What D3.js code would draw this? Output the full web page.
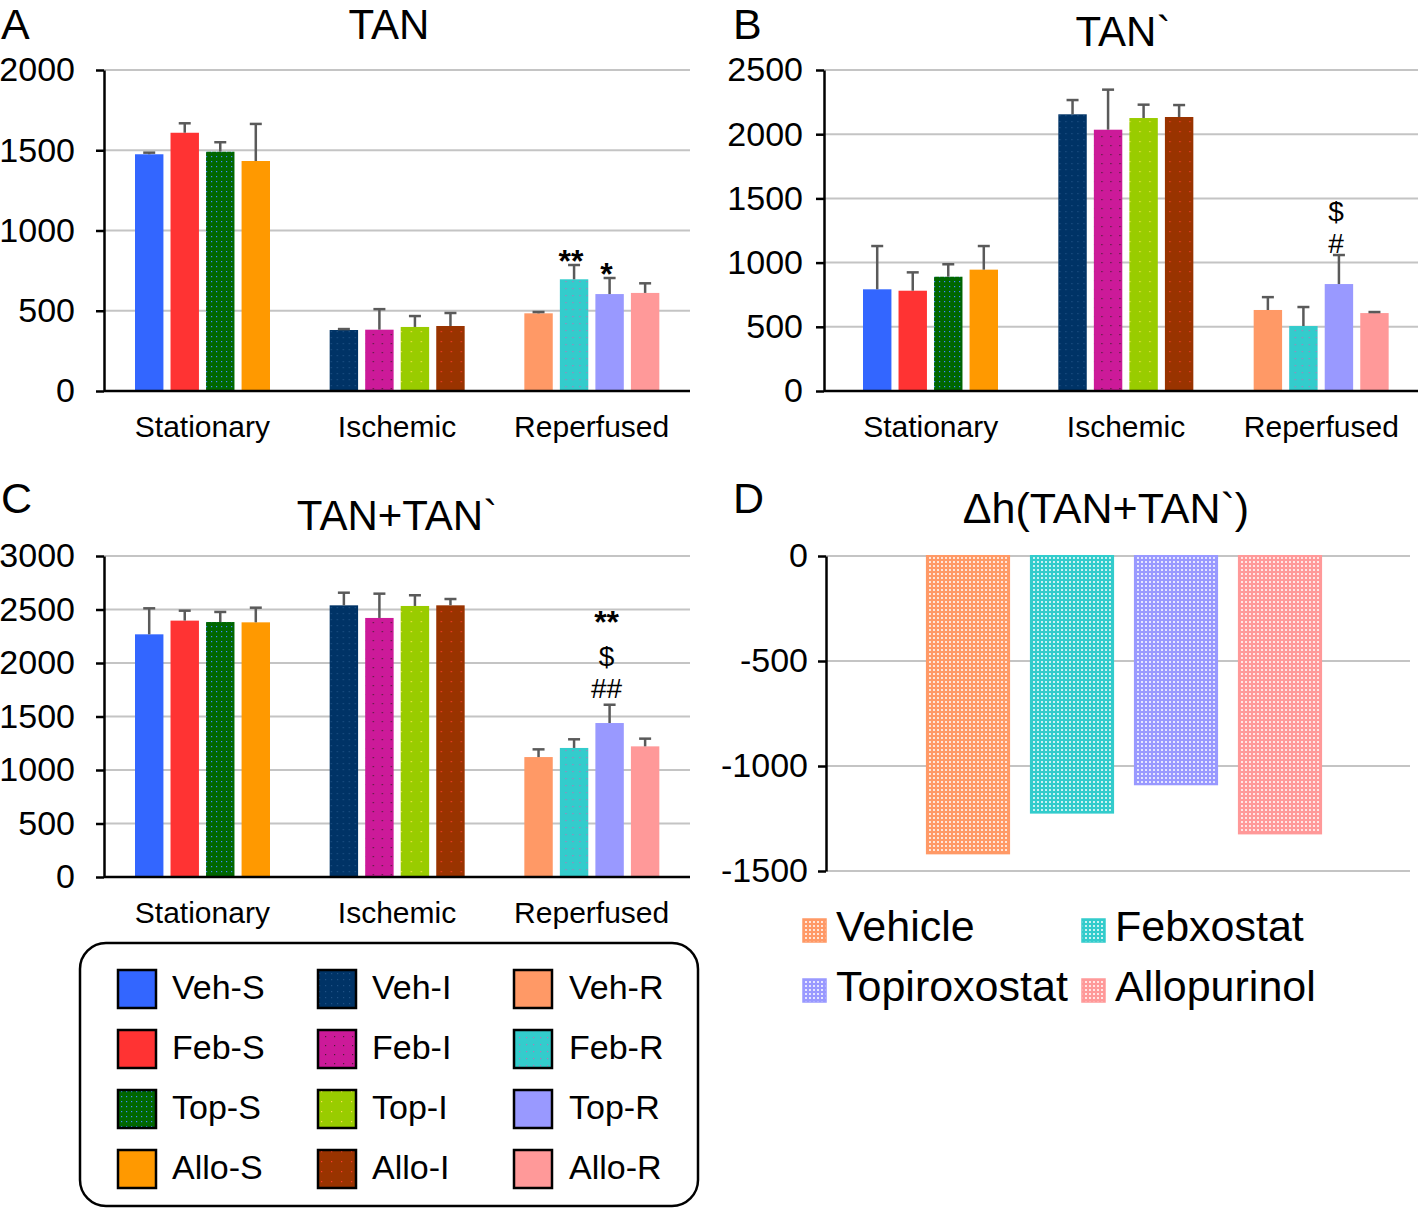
<!DOCTYPE html>
<html><head><meta charset="utf-8">
<script src="https://cdn.jsdelivr.net/npm/d3@7"></script>
<style>
body{margin:0;background:#fff}
svg{display:block}
text{font-family:"Liberation Sans",Arial,Helvetica,sans-serif;fill:#000}
</style>
</head><body>
<svg id="chart" width="1418" height="1209"></svg>
<script>
// ---------------- DATA ----------------
const categories = ["Stationary", "Ischemic", "Reperfused"];
const drugs = ["Veh", "Feb", "Top", "Allo"];
const groupSuffix = ["S", "I", "R"];

// Panel A: TAN  (rows = categories, cols = drugs)
const tanMean = [[1475, 1609, 1491, 1433], [380, 382, 399, 405], [484, 696, 604, 611]];
const tanErr  = [[10, 59, 59, 231], [6, 128, 68, 81], [8, 89, 100, 60]];
// Panel B: TAN`
const tanPMean = [[792, 781, 890, 945], [2155, 2035, 2126, 2134], [631, 506, 833, 607]];
const tanPErr  = [[337, 143, 97, 184], [111, 312, 104, 93], [100, 148, 226, 8]];
// Panel C: TAN+TAN`
const totalMean = [[2268, 2396, 2383, 2380], [2539, 2421, 2533, 2539], [1121, 1206, 1439, 1221]];
const totalErr  = [[243, 93, 94, 137], [118, 227, 100, 59], [72, 81, 171, 72]];
// Panel D: delta h(TAN+TAN`)
const deltaGroups = ["Vehicle", "Febxostat", "Topiroxostat", "Allopurinol"];
const deltaValues = [-1416, -1222, -1087, -1321];

const ticksA = [0, 500, 1000, 1500, 2000];
const ticksB = [0, 500, 1000, 1500, 2000, 2500];
const ticksC = [0, 500, 1000, 1500, 2000, 2500, 3000];
const ticksD = [0, -500, -1000, -1500];

const annotA = [{cat: 2, drug: 1, lines: ["**"]}, {cat: 2, drug: 2, lines: ["*"]}];
const annotB = [{cat: 2, drug: 2, lines: ["$", "#"]}];
const annotC = [{cat: 2, drug: 2, lines: ["**", "$", "##"]}];

// ---------------- STYLE ----------------
const seriesColors = [
  ["#3366ff", "#ff3333", "#006600", "#ff9900"],
  ["#003366", "#cc1a99", "#99cc00", "#993300"],
  ["#ff9966", "#33cccc", "#9999ff", "#ff9999"]
];
const dotStyles = [
  [null, null, {c: "#3d8bff", s: 5}, null],
  [{c: "#1f5286", s: 6}, {c: "#4a1f33", s: 9}, {c: "#ffdd55", s: 10}, {c: "#ff3b2b", s: 10}],
  [null, {c: "#b07ab8", s: 7}, null, null]
];
const deltaColors = ["#ff9966", "#33cccc", "#9999ff", "#ff9999"];
const FONT = '"Liberation Sans",Arial,Helvetica,sans-serif';
const fmt = d => String(d);

const svg = d3.select("#chart");
const defs = svg.append("defs");

// patterns for series bars
seriesColors.forEach((row, gi) => row.forEach((col, di) => {
  const p = defs.append("pattern").attr("id", `pat-${gi}-${di}`)
    .attr("patternUnits", "userSpaceOnUse");
  const ds = dotStyles[gi][di];
  const s = ds ? ds.s : 4;
  p.attr("width", s).attr("height", s);
  p.append("rect").attr("width", s).attr("height", s).attr("fill", col);
  if (ds) {
    p.append("rect").attr("x", 1).attr("y", 1).attr("width", 1.2).attr("height", 1.2).attr("fill", ds.c);
  }
}));
// patterns for delta bars
deltaColors.forEach((col, i) => {
  const p = defs.append("pattern").attr("id", `dpat-${i}`)
    .attr("patternUnits", "userSpaceOnUse").attr("width", 4).attr("height", 4);
  p.append("rect").attr("width", 4).attr("height", 4).attr("fill", col);
  p.append("rect").attr("x", 1).attr("y", 1).attr("width", 2).attr("height", 2).attr("fill", "#fff").attr("opacity", 0.75);
});

// ---------------- GROUPED BAR PANEL ----------------
function drawPanel(cfg) {
  const g = svg.append("g");
  const y = d3.scaleLinear().domain(cfg.domain).range([cfg.bottom, cfg.top]);
  const x0 = d3.scaleBand().domain(categories).range(cfg.xRange).padding(0);
  const x1 = d3.scaleBand().domain(drugs).range([30, 165]).paddingInner(0.2);

  // grid
  g.append("g").selectAll("line").data(cfg.ticks.filter(t => t !== 0)).join("line")
    .attr("x1", cfg.axisX).attr("x2", cfg.gridEnd)
    .attr("y1", d => y(d)).attr("y2", d => y(d))
    .attr("stroke", "#c4c4c4").attr("stroke-width", 2);

  // bars
  categories.forEach((cat, ci) => {
    const gg = g.append("g").attr("transform", `translate(${x0(cat)},0)`);
    const rows = drugs.map((d, di) => ({d, di, m: cfg.mean[ci][di], e: cfg.err[ci][di]}));
    gg.selectAll("rect").data(rows).join("rect")
      .attr("x", r => x1(r.d)).attr("width", x1.bandwidth())
      .attr("y", r => y(r.m)).attr("height", r => y(0) - y(r.m))
      .attr("fill", r => `url(#pat-${ci}-${r.di})`);
    gg.selectAll("line.eb").data(rows).join("line").attr("class", "eb")
      .attr("x1", r => x1(r.d) + x1.bandwidth() / 2).attr("x2", r => x1(r.d) + x1.bandwidth() / 2)
      .attr("y1", r => y(r.m)).attr("y2", r => y(r.m + r.e))
      .attr("stroke", "#5a5a5a").attr("stroke-width", 2.5);
    gg.selectAll("line.cap").data(rows).join("line").attr("class", "cap")
      .attr("x1", r => x1(r.d) + x1.bandwidth() / 2 - 6).attr("x2", r => x1(r.d) + x1.bandwidth() / 2 + 6)
      .attr("y1", r => y(r.m + r.e)).attr("y2", r => y(r.m + r.e))
      .attr("stroke", "#5a5a5a").attr("stroke-width", 2.5);
  });

  // annotations (one text element per marked bar, one tspan per line)
  cfg.annot.forEach(a => {
    const cat = categories[a.cat], d = drugs[a.drug];
    const cx = x0(cat) + x1(d) + x1.bandwidth() / 2 - 3;
    const topY = y(cfg.mean[a.cat][a.drug] + cfg.err[a.cat][a.drug]);
    const t = g.append("text").attr("text-anchor", "middle");
    a.lines.forEach((line, li) => {
      const star = line.includes("*");
      t.append("tspan").attr("x", cx).attr("y", topY + cfg.annotOffsets[li])
        .style("font-size", star ? "32px" : "28px")
        .style("font-weight", star ? "bold" : "normal")
        .text(line);
    });
  });

  // x axis line
  g.append("line").attr("x1", cfg.axisX).attr("x2", cfg.gridEnd)
    .attr("y1", y(0)).attr("y2", y(0)).attr("stroke", "#000").attr("stroke-width", 2.5);
  // category labels
  const xa = g.append("g").attr("transform", `translate(0,${y(0)})`)
    .call(d3.axisBottom(x0).tickSize(0).tickPadding(25));
  xa.select(".domain").remove();
  xa.selectAll("text").style("font-size", "30px").style("font-family", FONT).attr("fill", "#000");

  // y axis
  const ya = g.append("g").attr("transform", `translate(${cfg.axisX},0)`)
    .call(d3.axisLeft(y).tickValues(cfg.ticks).tickSize(8).tickSizeOuter(0).tickPadding(cfg.tickPad).tickFormat(fmt));
  ya.select(".domain").attr("stroke-width", 2.5);
  ya.selectAll(".tick line").attr("stroke-width", 2.5);
  ya.selectAll("text").style("font-size", "34px").style("font-family", FONT).attr("fill", "#000");

  // title
  g.append("text").attr("x", cfg.titleX).attr("y", cfg.titleY).attr("text-anchor", "middle")
    .style("font-size", "42px").text(cfg.title);
  g.append("text").attr("x", cfg.letterX).attr("y", cfg.letterY)
    .style("font-size", "43px").text(cfg.letter);
}

drawPanel({letter: "A", letterX: 1, letterY: 39, title: "TAN", titleX: 389, titleY: 39,
  mean: tanMean, err: tanErr, domain: [0, 2000], ticks: ticksA, top: 70, bottom: 391,
  xRange: [105, 689], axisX: 104, gridEnd: 690, tickPad: 21,
  annot: annotA, annotOffsets: [7]});
drawPanel({letter: "B", letterX: 733, letterY: 39, title: "TAN`", titleX: 1123, titleY: 46,
  mean: tanPMean, err: tanPErr, domain: [0, 2500], ticks: ticksB, top: 70, bottom: 391,
  xRange: [833, 1419], axisX: 824, gridEnd: 1418, tickPad: 13,
  annot: annotB, annotOffsets: [-34, -2]});
drawPanel({letter: "C", letterX: 1, letterY: 513, title: "TAN+TAN`", titleX: 397, titleY: 530,
  mean: totalMean, err: totalErr, domain: [0, 3000], ticks: ticksC, top: 556, bottom: 877,
  xRange: [105, 689], axisX: 104, gridEnd: 690, tickPad: 21,
  annot: annotC, annotOffsets: [-72, -39, -7]});

// ---------------- PANEL D ----------------
(function () {
  const g = svg.append("g");
  const y = d3.scaleLinear().domain([-1500, 0]).range([871, 556]);
  const x = d3.scaleBand().domain(deltaGroups).range([916, 1332]).paddingInner(0.21).paddingOuter(0.105);
  g.append("g").selectAll("line").data(ticksD).join("line")
    .attr("x1", 826).attr("x2", 1410).attr("y1", d => y(d)).attr("y2", d => y(d))
    .attr("stroke", "#c4c4c4").attr("stroke-width", 2);
  g.selectAll("rect.bar").data(deltaValues).join("rect").attr("class", "bar")
    .attr("x", (d, i) => x(deltaGroups[i])).attr("width", x.bandwidth())
    .attr("y", y(0)).attr("height", d => y(d) - y(0))
    .attr("fill", (d, i) => `url(#dpat-${i})`)
    .attr("stroke", (d, i) => deltaColors[i]).attr("stroke-width", 2);
  const ya = g.append("g").attr("transform", "translate(826,0)")
    .call(d3.axisLeft(y).tickValues(ticksD).tickSize(8).tickSizeOuter(0).tickPadding(10).tickFormat(fmt));
  ya.select(".domain").attr("stroke-width", 2.5);
  ya.selectAll(".tick line").attr("stroke-width", 2.5);
  ya.selectAll("text").style("font-size", "34px").style("font-family", FONT).attr("fill", "#000");
  g.append("text").attr("x", 1106).attr("y", 523).attr("text-anchor", "middle")
    .style("font-size", "43px").text("\u0394h(TAN+TAN`)");
  g.append("text").attr("x", 733).attr("y", 513).style("font-size", "43px").text("D");

  // legend D
  const lx = [803, 1082], ly = [919, 979];
  deltaGroups.forEach((name, i) => {
    const cx = lx[i % 2], cy = ly[Math.floor(i / 2)];
    g.append("rect").attr("x", cx).attr("y", cy).attr("width", 23).attr("height", 23)
      .attr("fill", `url(#dpat-${i})`).attr("stroke", deltaColors[i]).attr("stroke-width", 1.5);
    g.append("text").attr("x", cx + 33).attr("y", cy + 22).style("font-size", "43px").text(name);
  });
})();

// ---------------- MAIN LEGEND ----------------
(function () {
  const g = svg.append("g");
  g.append("rect").attr("x", 80).attr("y", 943).attr("width", 618).attr("height", 263)
    .attr("rx", 26).attr("fill", "#fff").attr("stroke", "#000").attr("stroke-width", 2.5);
  const colX = [118, 318, 514], textX = [172, 372, 569], rowY = [970, 1030, 1090, 1150];
  groupSuffix.forEach((suf, gi) => {
    drugs.forEach((d, di) => {
      g.append("rect").attr("x", colX[gi]).attr("y", rowY[di]).attr("width", 38).attr("height", 38)
        .attr("fill", `url(#pat-${gi}-${di})`).attr("stroke", "#000").attr("stroke-width", 2.5);
      g.append("text").attr("x", textX[gi]).attr("y", rowY[di] + 29)
        .style("font-size", "34px").text(`${d}-${suf}`);
    });
  });
})();
</script>
</body></html>
